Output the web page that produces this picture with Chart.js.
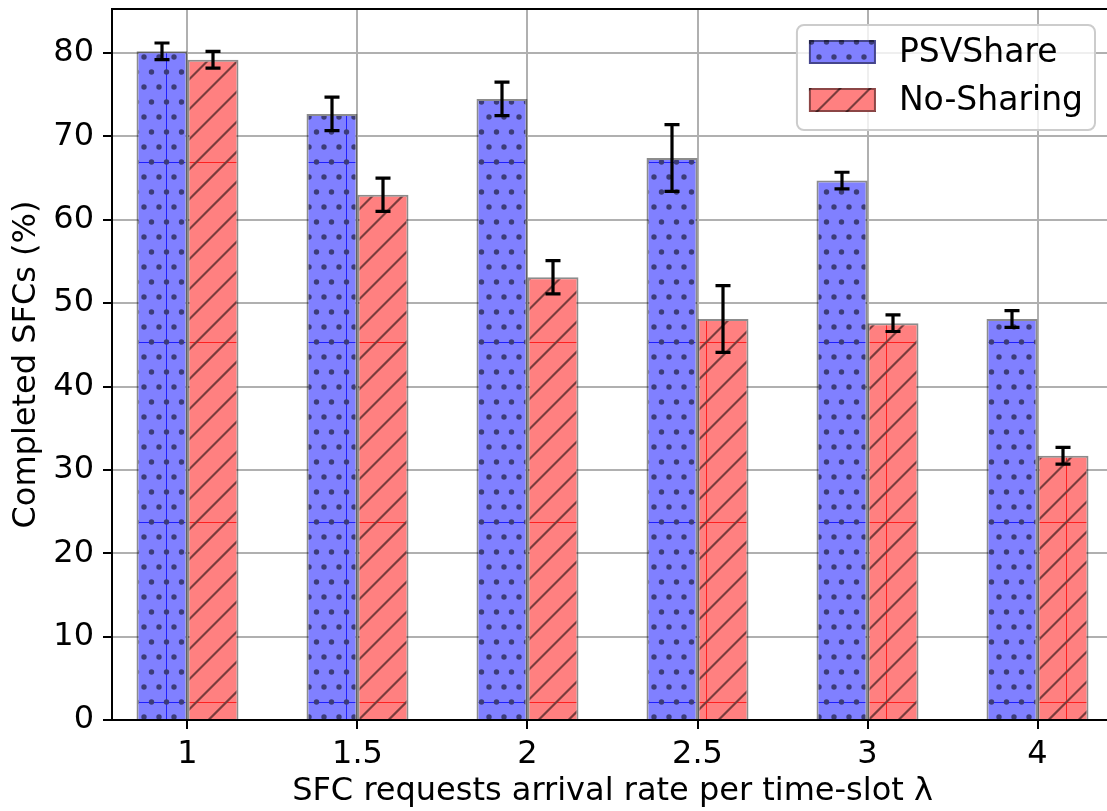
<!DOCTYPE html>
<html>
<head>
<meta charset="utf-8">
<script src="https://cdn.jsdelivr.net/npm/chart.js@4/dist/chart.umd.min.js"></script>
<style>
  html, body { margin: 0; padding: 0; background: #fff; overflow: hidden; }
  canvas { display: block; }
</style>
</head>
<body>
<canvas id="chart" width="1120" height="811"></canvas>
<script>
// data
const categories = ['1', '1.5', '2', '2.5', '3', '4'];
const psvShare = [80.2, 72.7, 74.5, 67.4, 64.7, 48.1];
const psvShareErr = [1.0, 2.0, 2.0, 4.0, 1.0, 1.0];
const noSharing = [79.2, 63.0, 53.1, 48.1, 47.6, 31.7];
const noSharingErr = [1.0, 2.0, 2.0, 4.0, 1.0, 1.0];
const yTicks = [0, 10, 20, 30, 40, 50, 60, 70, 80];

const FONT = 'DejaVu Sans';

// hatch tiles, 180px repeat like the source raster
function makeTile(fill, seam, drawHatch) {
    const tile = document.createElement('canvas');
    tile.width = 180;
    tile.height = 180;
    const g = tile.getContext('2d');
    g.fillStyle = fill;
    g.fillRect(0, 0, 180, 180);
    g.fillStyle = seam;
    g.fillRect(166, 0, 1, 180);
    g.fillRect(0, 162, 180, 1);
    drawHatch(g);
    return g.createPattern(tile, 'repeat');
}

const dotPattern = makeTile('#8080ff', 'rgba(0,0,255,0.75)', g => {
    g.fillStyle = '#3c3c78';
    for (let k = -12; k <= 2; k++) {
        const yy = 162 + 15 * k;
        const shift = Math.abs(k) % 2 === 1 ? 7.5 : 0;
        for (let i = -12; i <= 2; i++) {
            const xx = 166.5 + shift + 15 * i;
            g.beginPath();
            g.arc(xx, yy, 2.7, 0, Math.PI * 2);
            g.fill();
        }
    }
});

const slashPattern = makeTile('#ff8080', 'rgba(255,0,0,0.75)', g => {
    g.strokeStyle = '#7a3c3c';
    g.lineWidth = 2.2;
    for (let n = -1; n <= 13; n++) {
        const c = 28.5 + 30 * n;
        g.beginPath();
        g.moveTo(c + 10, -10);
        g.lineTo(c - 190, 190);
        g.stroke();
    }
});

const errors = [psvShareErr, noSharingErr];

const extrasPlugin = {
    id: 'extras',
    afterDraw(chart) {
        const ctx = chart.ctx;
        const area = chart.chartArea;
        const y = chart.scales.y;
        ctx.save();

        // top spine
        ctx.strokeStyle = '#000';
        ctx.lineWidth = 2;
        ctx.beginPath();
        ctx.moveTo(area.left - 1, area.top);
        ctx.lineTo(area.right + 1, area.top);
        ctx.stroke();

        // error bars
        ctx.lineWidth = 3.2;
        errors.forEach((errs, di) => {
            const values = chart.data.datasets[di].data;
            chart.getDatasetMeta(di).data.forEach((bar, i) => {
                const hi = y.getPixelForValue(values[i] + errs[i]);
                const lo = y.getPixelForValue(values[i] - errs[i]);
                const x = bar.x;
                ctx.beginPath();
                ctx.moveTo(x, hi);
                ctx.lineTo(x, lo);
                ctx.moveTo(x - 7.5, hi);
                ctx.lineTo(x + 7.5, hi);
                ctx.moveTo(x - 7.5, lo);
                ctx.lineTo(x + 7.5, lo);
                ctx.stroke();
            });
        });

        // legend
        ctx.font = '33px "' + FONT + '"';
        const labels = chart.data.datasets.map(d => d.label);
        const textW = Math.max(...labels.map(t => ctx.measureText(t).width));
        const boxW = 12 + 67 + 23 + textW + 12;
        const boxH = 105;
        const bx = area.right - 18 - boxW;
        const by = area.top + 16;
        ctx.beginPath();
        ctx.roundRect(bx, by, boxW, boxH, 7);
        ctx.fillStyle = 'rgba(255,255,255,0.8)';
        ctx.fill();
        ctx.strokeStyle = '#cccccc';
        ctx.lineWidth = 2;
        ctx.stroke();
        chart.data.datasets.forEach((d, i) => {
            const sy = by + 15 + i * 48;
            ctx.fillStyle = d.backgroundColor;
            ctx.fillRect(bx + 12, sy, 67, 24);
            ctx.strokeStyle = d.borderColor;
            ctx.lineWidth = 2;
            ctx.strokeRect(bx + 13, sy + 1, 65, 22);
            ctx.fillStyle = '#000';
            ctx.textAlign = 'left';
            ctx.textBaseline = 'middle';
            ctx.fillText(d.label, bx + 12 + 67 + 23, sy + 13);
        });
        ctx.restore();
    }
};

const tickFont = { family: FONT, size: 32 };
const gridStyle = { color: '#b0b0b0', lineWidth: 2, tickColor: '#000', tickWidth: 2, tickLength: 9, offset: false };

new Chart(document.getElementById('chart').getContext('2d'), {
    type: 'bar',
    data: {
        labels: categories.map((c, i) => i),
        datasets: [
            {
                label: 'PSVShare',
                data: psvShare,
                backgroundColor: dotPattern,
                borderColor: 'rgba(0,0,0,0.45)',
                borderWidth: 2,
                borderSkipped: 'start'
            },
            {
                label: 'No-Sharing',
                data: noSharing,
                backgroundColor: slashPattern,
                borderColor: 'rgba(0,0,0,0.45)',
                borderWidth: 2,
                borderSkipped: 'start'
            }
        ]
    },
    options: {
        responsive: false,
        animation: false,
        categoryPercentage: 0.6,
        barPercentage: 1.0,
        layout: { padding: { top: 9, right: 7, left: 0, bottom: 0 } },
        plugins: {
            legend: { display: false },
            tooltip: { enabled: false }
        },
        scales: {
            x: {
                type: 'linear',
                min: -0.4441,
                max: 5.4441,
                offset: false,
                z: 1,
                afterBuildTicks: scale => {
                    scale.ticks = categories.map((c, i) => ({ value: i }));
                },
                afterFit: scale => {
                    scale.height = 91;
                    scale.paddingLeft = 0;
                    scale.paddingRight = 0;
                },
                ticks: {
                    callback: (v, i) => categories[i],
                    font: tickFont,
                    color: '#000',
                    padding: 6,
                    maxRotation: 0,
                    autoSkip: false
                },
                grid: gridStyle,
                border: { color: '#000', width: 2 },
                title: {
                    display: true,
                    text: 'SFC requests arrival rate per time-slot λ',
                    font: tickFont,
                    color: '#000',
                    padding: { top: 0, bottom: 0 }
                }
            },
            y: {
                min: 0,
                max: 85.28,
                z: 1,
                afterBuildTicks: scale => {
                    scale.ticks = yTicks.map(v => ({ value: v }));
                },
                afterFit: scale => {
                    scale.width = 112;
                    scale.paddingTop = 0;
                    scale.paddingBottom = 0;
                },
                ticks: {
                    font: tickFont,
                    color: '#000',
                    padding: 9
                },
                grid: gridStyle,
                border: { color: '#000', width: 2 },
                title: {
                    display: true,
                    text: 'Completed SFCs (%)',
                    font: tickFont,
                    color: '#000',
                    padding: { top: 7, bottom: 0 }
                }
            }
        }
    },
    plugins: [extrasPlugin]
});
</script>
</body>
</html>
